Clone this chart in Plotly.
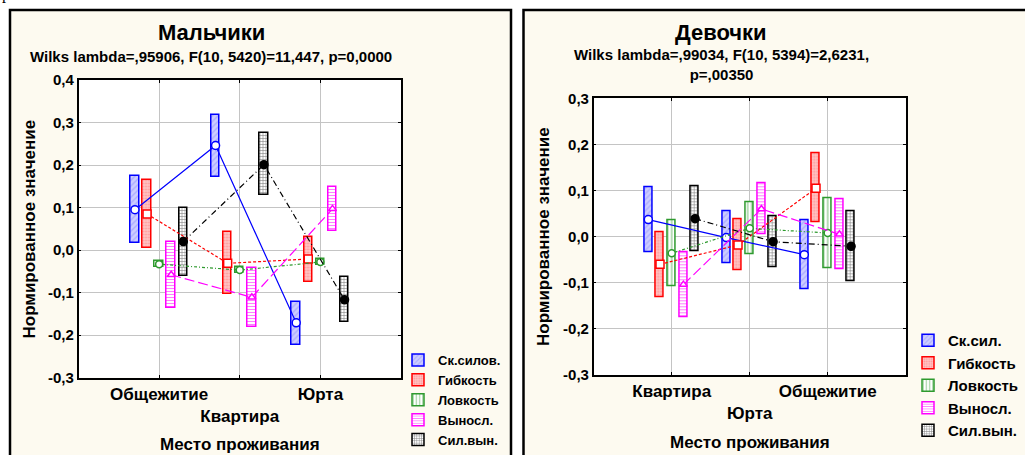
import plotly.graph_objects as go

W, H = 1025, 455

# ---------------- data ----------------
series = ["Ск.силов.", "Гибкость", "Ловкость", "Выносл.", "Сил.вын."]
series_g = ["Ск.сил.", "Гибкость", "Ловкость", "Выносл.", "Сил.вын."]

boys_cats = ["Общежитие", "Квартира", "Юрта"]
girls_cats = ["Квартира", "Юрта", "Общежитие"]

# boys: mean, low, high per series (order of boys_cats)
boys_mean = [
    [0.095, 0.246, -0.171],
    [0.085, -0.031, -0.021],
    [-0.033, -0.047, -0.028],
    [-0.058, -0.111, 0.097],
    [0.020, 0.201, -0.117],
]
boys_low = [
    [0.016, 0.173, -0.224],
    [0.006, -0.103, -0.075],
    [-0.040, -0.054, -0.035],
    [-0.135, -0.181, 0.046],
    [-0.060, 0.129, -0.169],
]
boys_high = [
    [0.174, 0.317, -0.121],
    [0.165, 0.042, 0.031],
    [-0.026, -0.040, -0.022],
    [0.020, -0.041, 0.148],
    [0.099, 0.275, -0.064],
]

# girls: mean, low, high per series (order of girls_cats)
girls_mean = [
    [0.037, -0.002, -0.039],
    [-0.060, -0.018, 0.105],
    [-0.036, 0.018, 0.008],
    [-0.104, 0.060, 0.005],
    [0.039, -0.011, -0.021],
]
girls_low = [
    [-0.034, -0.057, -0.115],
    [-0.131, -0.073, 0.031],
    [-0.107, -0.038, -0.068],
    [-0.175, 0.005, -0.070],
    [-0.031, -0.067, -0.096],
]
girls_high = [
    [0.108, 0.054, 0.036],
    [0.010, 0.037, 0.180],
    [0.035, 0.074, 0.083],
    [-0.034, 0.116, 0.081],
    [0.110, 0.044, 0.055],
]

boys_yticks = [-0.3, -0.2, -0.1, 0.0, 0.1, 0.2, 0.3, 0.4]
boys_yticktext = ["-0,3", "-0,2", "-0,1", "0,0", "0,1", "0,2", "0,3", "0,4"]
girls_yticks = [-0.3, -0.2, -0.1, 0.0, 0.1, 0.2, 0.3]
girls_yticktext = ["-0,3", "-0,2", "-0,1", "0,0", "0,1", "0,2", "0,3"]

boys_title = "Мальчики"
boys_sub = "Wilks lambda=,95906, F(10, 5420)=11,447, p=0,0000"
girls_title = "Девочки"
girls_sub = "Wilks lambda=,99034, F(10, 5394)=2,6231,<br>p=,00350"
ytitle = "Нормированное значение"
xtitle = "Место проживания"

# ---------------- styles ----------------
FONT = "Liberation Sans, Arial, sans-serif"
offsets = [-0.3, -0.15, 0.0, 0.15, 0.3]
styles = [
    dict(color="#0000FF", shape="/", fg="#8C8CFF", bg="#CDCDFF", psize=4,
         sym="circle", msize=8, mfill="white", dash="solid"),
    dict(color="#FF0000", shape=".", fg="#FF6A6A", bg="#FFC4C4", psize=3,
         sym="square", msize=8, mfill="white", dash="3px,2px"),
    dict(color="#2E9A2E", shape="|", fg="#2E9A2E", bg="#FFFFFF", psize=4,
         sym="circle", msize=7, mfill="white", dash="1px,2px,3px,2px"),
    dict(color="#FF00FF", shape="-", fg="#FF00FF", bg="#FFFFFF", psize=3,
         sym="triangle-up", msize=7, mfill="white", dash="10px,4px"),
    dict(color="#000000", shape="+", fg="#000000", bg="#FFFFFF", psize=3,
         sym="circle", msize=8, mfill="black", dash="6px,3px,1px,3px"),
]
BW = 0.105


def px_x(p):
    return p / W


def px_y(p):
    return 1 - p / H


fig = go.Figure()


def add_panel(xa, ya, names, means, lows, highs, legend):
    for i, name in enumerate(names):
        st = styles[i]
        xs = [k + 1 + offsets[i] for k in range(len(means[i]))]
        fig.add_trace(go.Bar(
            x=xs, y=[h - l for h, l in zip(highs[i], lows[i])], base=lows[i],
            width=BW, xaxis=xa, yaxis=ya, name=name, legend=legend,
            legendgroup=legend + name,
            marker=dict(color=st["color"],
                        line=dict(color=st["color"], width=1.5),
                        pattern=dict(shape=st["shape"], fgcolor=st["fg"],
                                     bgcolor=st["bg"], size=st["psize"],
                                     solidity=0.35)),
            hoverinfo="skip",
        ))
        fig.add_trace(go.Scatter(
            x=xs, y=means[i], xaxis=xa, yaxis=ya, mode="lines+markers",
            name=name, legend=legend, legendgroup=legend + name, showlegend=False,
            line=dict(color=st["color"], width=1.2, dash=st["dash"]),
            marker=dict(symbol=st["sym"], size=st["msize"], color=st["mfill"],
                        line=dict(color=st["color"], width=1.5)),
        ))


add_panel("x", "y", series, boys_mean, boys_low, boys_high, "legend")
add_panel("x2", "y2", series_g, girls_mean, girls_low, girls_high, "legend2")

axis_common = dict(showline=True, linecolor="black", linewidth=1.5, mirror="allticks",
                   ticks="inside", ticklen=3, tickcolor="black",
                   showgrid=True, gridcolor="#C4C4C4", gridwidth=1, zeroline=False,
                   automargin=False, tickangle=0,
                   tickfont=dict(family=FONT, size=15, color="black", weight="bold"))

xt_common = dict(axis_common)
xt_common["tickfont"] = dict(family=FONT, size=17, color="black", weight="bold")

fig.update_layout(
    width=W, height=H, margin=dict(l=0, r=0, t=0, b=0, autoexpand=False),
    paper_bgcolor="#FDFAF0", plot_bgcolor="white",
    barmode="overlay", bargap=0,
    font=dict(family=FONT, color="black"),
    xaxis=dict(xt_common, domain=[px_x(78.5), px_x(401)], range=[0, 4],
               tickvals=[1, 2, 3],
               ticktext=[boys_cats[0], "<br>" + boys_cats[1], boys_cats[2]],
               anchor="y"),
    yaxis=dict(axis_common, domain=[px_y(377.7), px_y(80)], range=[-0.3, 0.4],
               tickvals=boys_yticks, ticktext=boys_yticktext, anchor="x"),
    xaxis2=dict(xt_common, domain=[px_x(593.7), px_x(905.7)], range=[0, 4],
                tickvals=[1, 2, 3],
                ticktext=[girls_cats[0], "<br>" + girls_cats[1], girls_cats[2]],
                anchor="y2"),
    yaxis2=dict(axis_common, domain=[px_y(375), px_y(98.3)], range=[-0.3, 0.3],
                tickvals=girls_yticks, ticktext=girls_yticktext, anchor="x2"),
    legend=dict(x=px_x(398), y=px_y(345), xanchor="left", yanchor="top",
                bgcolor="rgba(0,0,0,0)",
                font=dict(family=FONT, size=13, color="black", weight="bold"),
                itemwidth=30, tracegroupgap=0),
    legend2=dict(x=px_x(908), y=px_y(324), xanchor="left", yanchor="top",
                 bgcolor="rgba(0,0,0,0)",
                 font=dict(family=FONT, size=15, color="black", weight="bold"),
                 itemwidth=30, tracegroupgap=0),
    showlegend=True,
)

# panel frames and white surroundings
shapes = [
    dict(type="rect", xref="paper", yref="paper", x0=0, x1=1, y0=px_y(10), y1=1.01,
         fillcolor="white", line=dict(width=0), layer="below"),
    dict(type="rect", xref="paper", yref="paper", x0=-0.01, x1=px_x(10), y0=-0.01, y1=1.01,
         fillcolor="white", line=dict(width=0), layer="below"),
    dict(type="rect", xref="paper", yref="paper", x0=px_x(511), x1=px_x(523.5), y0=-0.01, y1=1.01,
         fillcolor="white", line=dict(width=0), layer="below"),
    dict(type="rect", xref="paper", yref="paper", x0=px_x(10), x1=px_x(511), y0=-0.05, y1=px_y(10),
         line=dict(color="black", width=2.5), layer="above"),
    dict(type="rect", xref="paper", yref="paper", x0=px_x(523.5), x1=1.05, y0=-0.05, y1=px_y(10),
         line=dict(color="black", width=2.5), layer="above"),
]
fig.update_layout(shapes=shapes)

ann = []


def txt(text, x, y, size, angle=0, family=FONT, bold=True):
    ann.append(dict(text=("<b>%s</b>" % text) if bold else text, xref="paper", yref="paper",
                    x=px_x(x), y=px_y(y), xanchor="center", yanchor="middle",
                    showarrow=False, textangle=angle,
                    font=dict(family=family, size=size, color="black")))


txt(boys_title, 211.5, 33, 22)
txt(boys_sub, 211, 56, 15)
txt(girls_title, 721, 33, 22)
txt(girls_sub, 721, 65, 15)
txt(ytitle, 28.5, 229, 17, angle=-90)
txt(ytitle, 543, 237, 17, angle=-90)
txt(xtitle, 239.5, 444, 17)
txt(xtitle, 749.5, 442, 17)
ann.append(dict(text="р", xref="paper", yref="paper", x=px_x(6), y=px_y(5),
                xanchor="center", yanchor="bottom", showarrow=False,
                font=dict(family="Liberation Serif, Times New Roman, serif", size=16, color="black")))
fig.update_layout(annotations=ann)

fig.write_html("out.html", config={"displayModeBar": False},
               post_script="document.body.style.margin='0px';")
